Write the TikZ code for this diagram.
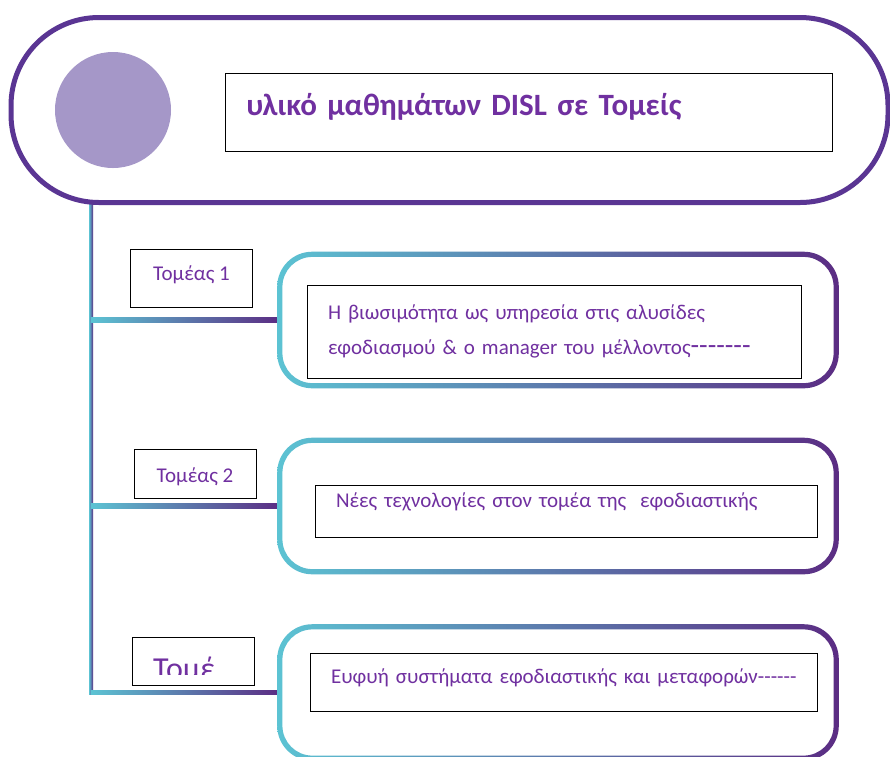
\documentclass[tikz,border=0pt]{standalone}
\usepackage{fontspec}
\setmainfont{Carlito}
\usepackage{tikz}
\usetikzlibrary{positioning}
\definecolor{pilledge}{HTML}{5A3593}
\definecolor{dotfill}{HTML}{A597C8}
\definecolor{txtpurple}{HTML}{7030A0}
\definecolor{tealedge}{HTML}{5CC3D3}
\definecolor{plumedge}{HTML}{5B2C83}
\tikzstyle{pill} = [draw=pilledge,line width=5pt,rounded corners=88pt,inner sep=0pt,minimum width=877pt,minimum height=185pt]
\tikzstyle{titlebox} = [draw=black,thin,fill=white,text=txtpurple,font=\fontsize{31}{34}\selectfont\bfseries,minimum width=607pt,minimum height=78pt,text width=565pt,inner xsep=21pt,align=left]
\tikzstyle{sectorbox} = [draw=black,thin,fill=white,text=txtpurple,font=\fontsize{21}{24}\selectfont,inner sep=0pt,minimum width=122pt]
\tikzstyle{trackbox} = [inner sep=0pt,minimum width=556pt,minimum height=131pt]
\tikzstyle{innerbox} = [draw=black,thin,fill=white,text=txtpurple,font=\fontsize{21}{35}\selectfont,inner ysep=0pt,inner xsep=21pt,align=left]
\tikzstyle{branch} = [left color=tealedge,right color=plumedge]
\newcommand{\ringshade}[1]{%
  \shade[left color=tealedge,right color=plumedge,even odd rule]
    [rounded corners=35pt] ([xshift=-2.6pt,yshift=-2.6pt]#1.south west) rectangle ([xshift=2.6pt,yshift=2.6pt]#1.north east)
    [rounded corners=30pt] ([xshift=2.6pt,yshift=2.6pt]#1.south west) rectangle ([xshift=-2.6pt,yshift=-2.6pt]#1.north east);}

\begin{document}
\begin{tikzpicture}[x=1pt,y=-1pt]
  \clip (0,0) rectangle (890,756);
  \fill[white] (0,0) rectangle (890,756);

  %Nodes
  \node[trackbox] (t1) at (558,320) {};
  \node[trackbox] (t2) at (558,506) {};
  \node[trackbox] (t3) at (558,692.5) {};

  \coordinate (spinetop) at (91,200);
  \coordinate (spinebot) at (91,694.5);
  \coordinate (sp1) at (spinetop |- t1.west);
  \coordinate (sp2) at (spinetop |- t2.west);
  \coordinate (sp3) at (spinetop |- t3.west);

  %Lines
  \shade[branch] ([xshift=-2pt]spinetop) rectangle ([xshift=2pt]spinebot);
  \shade[branch] ([yshift=2.2pt]sp1) rectangle ([yshift=-2.2pt]t1.west);
  \shade[branch] ([yshift=2.2pt]sp2) rectangle ([yshift=-2.2pt]t2.west);
  \shade[branch] ([yshift=2.2pt]sp3) rectangle ([yshift=-2.2pt]t3.west);

  \ringshade{t1}
  \ringshade{t2}
  \ringshade{t3}

  \node[pill,fill=white] (head) at (449.5,110) {};
  \node[circle,fill=dotfill,inner sep=0pt,minimum size=116pt] (dot) at (113,110) {};
  \node[titlebox,right=54pt of dot,yshift=-2pt,text height=20pt,text depth=14pt] (title) {υλικό μαθημάτων DISL σε Τομείς};

  \node[sectorbox,minimum height=58pt,text height=15pt,text depth=11pt] (s1) at (191.5,278) {Τομέας 1};
  \node[sectorbox,minimum height=49pt,text height=17pt,text depth=0pt] (s2) at (195,473.5) {Τομέας 2};
  \node[sectorbox,minimum height=48pt] (s3) at (193,661) {};
  \begin{scope}
    \clip ([xshift=1pt,yshift=-1pt]s3.north west) rectangle (253,674.5);
    \node[anchor=base west,inner sep=0pt,text=txtpurple,font=\fontsize{32}{36}\selectfont] (s3text) at (153,679) {Τομέ};
  \end{scope}

  \node[innerbox,minimum width=494pt,minimum height=93pt,text width=452pt] (i1) at (554,331.5)
    {Η βιωσιμότητα ως υπηρεσία στις αλυσίδες\\εφοδιασμού \& ο manager του μέλλοντος{\fontsize{28}{28}\selectfont -{}-{}-{}-{}-{}-{}-}};
  \node[innerbox,minimum width=502pt,minimum height=52pt,text width=460pt,text height=10pt,text depth=18pt] (i2) at (566,511)
    {Νέες τεχνολογίες στον τομέα της \ εφοδιαστικής};
  \node[innerbox,minimum width=507pt,minimum height=58pt,text width=465pt,text height=15pt,text depth=13pt] (i3) at (563.5,682)
    {\mbox{Ευφυή συστήματα εφοδιαστικής και μεταφορών-{}-{}-{}-{}-{}-}};
\end{tikzpicture}
\end{document}
